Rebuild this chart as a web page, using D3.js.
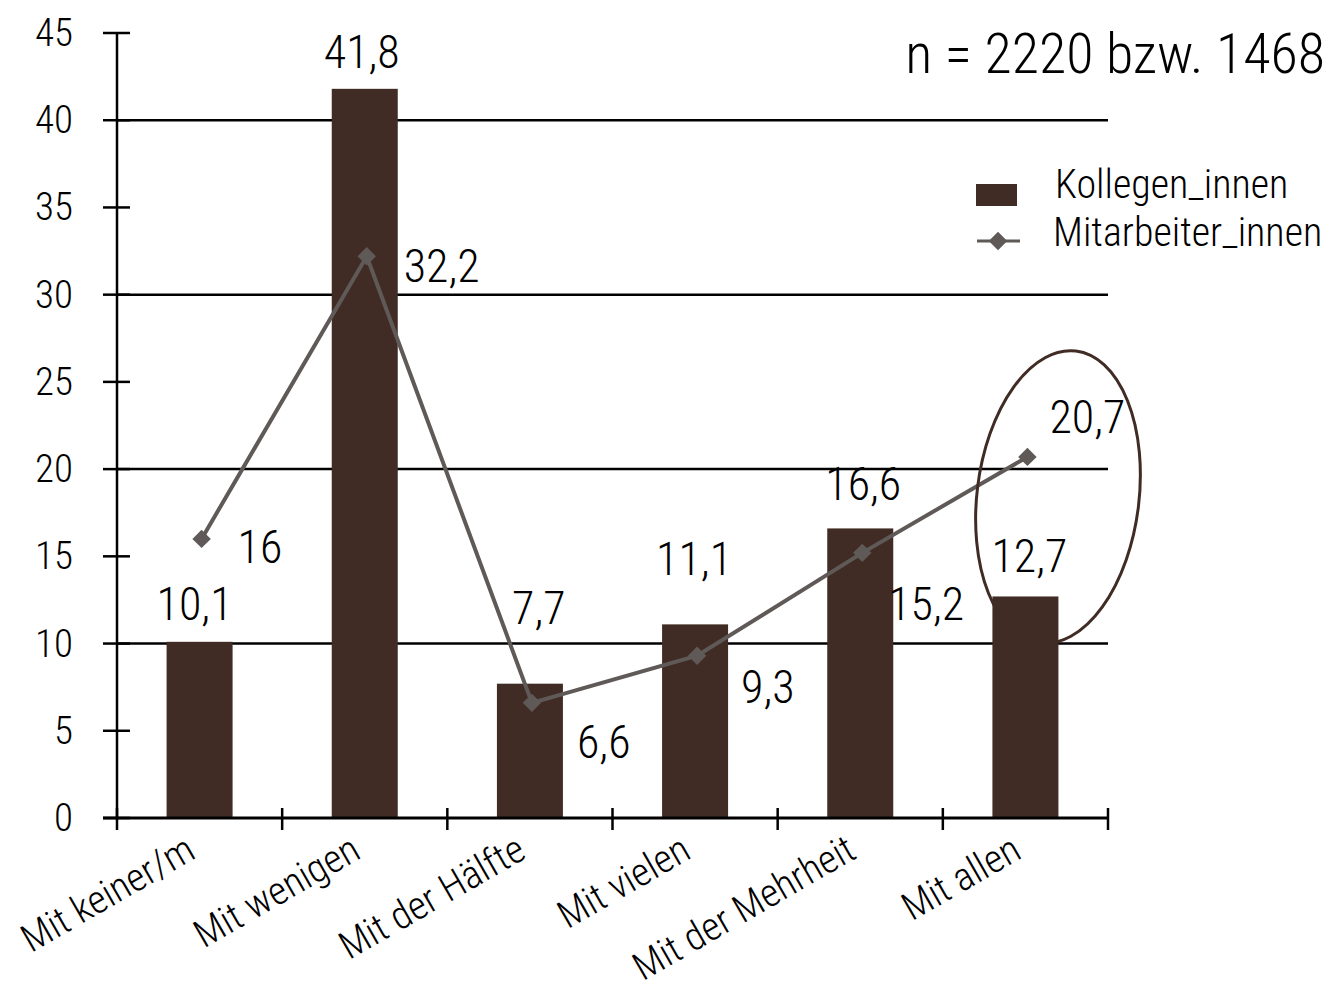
<!DOCTYPE html>
<html><head><meta charset="utf-8">
<script src="https://cdn.jsdelivr.net/npm/d3@7"></script>
<style>
body{margin:0;background:#fff;}
text{font-family:"Liberation Sans Narrow","Roboto Condensed","DejaVu Sans Condensed","Open Sans",sans-serif;font-stretch:condensed;font-weight:300;fill:#000;}
</style></head>
<body><svg id="c" width="1332" height="989"></svg>
<script>
const categories = ["Mit keiner/m","Mit wenigen","Mit der Hälfte","Mit vielen","Mit der Mehrheit","Mit allen"];
const kollegen = [10.1, 41.8, 7.7, 11.1, 16.6, 12.7];
const mitarbeiter = [16, 32.2, 6.6, 9.3, 15.2, 20.7];
const yTicks = [0,5,10,15,20,25,30,35,40,45];
const gridVals = [10,20,30,40];
const seriesNames = ["Kollegen_innen","Mitarbeiter_innen"];
const note = "n = 2220 bzw. 1468";

// label offsets (px) — styling
const barLabelOff = [[-5,-22],[-3,-21],[9,-60],[-1,-49],[3,-28],[4,-24]];
const lineLabelOff = [[36,24],[37,26],[45,55],[44,47],[26,67],[22,-24]];

const fmt = v => String(v).replace(".", ",");
const svg = d3.select("#c");
const L=117, R=1108, T=33, B=818;
const xc = d3.scaleBand().domain(categories).range([L,R]);
const y = d3.scaleLinear().domain([0,45]).range([B,T]);
const barC = "#402c24", lineC = "#5f5a57";

svg.append("g").selectAll("line").data(gridVals).join("line")
  .attr("x1",L).attr("x2",R).attr("y1",d=>y(d)).attr("y2",d=>y(d))
  .attr("stroke","#000").attr("stroke-width",2.5);

svg.append("g").selectAll("rect").data(kollegen).join("rect")
  .attr("x",(d,i)=>xc(categories[i])+xc.bandwidth()/2-33)
  .attr("width",66)
  .attr("y",d=>y(d)).attr("height",d=>B-y(d)).attr("fill",barC);

svg.append("line").attr("x1",L).attr("x2",L).attr("y1",T).attr("y2",B).attr("stroke","#000").attr("stroke-width",2.5);
svg.append("g").selectAll("line").data(yTicks).join("line")
  .attr("x1",L-14).attr("x2",L+13).attr("y1",d=>y(d)).attr("y2",d=>y(d)).attr("stroke","#000").attr("stroke-width",2.5);
svg.append("g").selectAll("text").data(yTicks).join("text")
  .attr("x",73).attr("y",d=>y(d)).attr("text-anchor","end").attr("dominant-baseline","central")
  .attr("font-size",39).text(d=>d);

svg.append("line").attr("x1",L-14).attr("x2",R).attr("y1",B).attr("y2",B).attr("stroke","#000").attr("stroke-width",3);
const bounds = categories.map(c=>xc(c)).concat([R]);
svg.append("g").selectAll("line").data(bounds).join("line")
  .attr("x1",d=>d).attr("x2",d=>d).attr("y1",B-10).attr("y2",B+12).attr("stroke","#000").attr("stroke-width",2.5);
svg.append("g").selectAll("text").data(categories).join("text")
  .attr("transform",d=>`translate(${xc(d)+xc.bandwidth()/2-2},857) rotate(-30)`)
  .attr("text-anchor","end")
  .attr("font-size",39).text(d=>d);

const px = i => xc(categories[i])+xc.bandwidth()/2+2;
const line = d3.line().x((d,i)=>px(i)).y(d=>y(d));
svg.append("path").datum(mitarbeiter).attr("d",line).attr("fill","none").attr("stroke",lineC).attr("stroke-width",4);
svg.append("g").selectAll("path").data(mitarbeiter).join("path")
  .attr("d",d3.symbol(d3.symbolSquare,170))
  .attr("transform",(d,i)=>`translate(${px(i)},${y(d)}) rotate(45)`).attr("fill",lineC);

svg.append("g").selectAll("text").data(kollegen).join("text")
  .attr("x",(d,i)=>xc(categories[i])+xc.bandwidth()/2+barLabelOff[i][0])
  .attr("y",(d,i)=>y(d)+barLabelOff[i][1])
  .attr("text-anchor","middle").attr("font-size",46).text(fmt);
svg.append("g").selectAll("text").data(mitarbeiter).join("text")
  .attr("x",(d,i)=>px(i)+lineLabelOff[i][0])
  .attr("y",(d,i)=>y(d)+lineLabelOff[i][1])
  .attr("text-anchor","start").attr("font-size",46).text(fmt);

svg.append("ellipse").attr("cx",1058).attr("cy",497).attr("rx",81).attr("ry",147)
  .attr("transform","rotate(7,1058,497)")
  .attr("fill","none").attr("stroke",barC).attr("stroke-width",3);

svg.append("rect").attr("x",976).attr("y",184).attr("width",41).attr("height",22).attr("fill",barC);
svg.append("text").attr("x",1055).attr("y",198).attr("font-size",40).text(seriesNames[0]);
svg.append("line").attr("x1",977).attr("x2",1020).attr("y1",241).attr("y2",241).attr("stroke",lineC).attr("stroke-width",3);
svg.append("path").attr("d",d3.symbol(d3.symbolSquare,170)).attr("transform","translate(998,241) rotate(45)").attr("fill",lineC);
svg.append("text").attr("x",1053).attr("y",246).attr("font-size",40).text(seriesNames[1]);

svg.append("text").attr("x",1325).attr("y",73).attr("text-anchor","end").attr("font-size",56).text(note);
</script></body></html>
